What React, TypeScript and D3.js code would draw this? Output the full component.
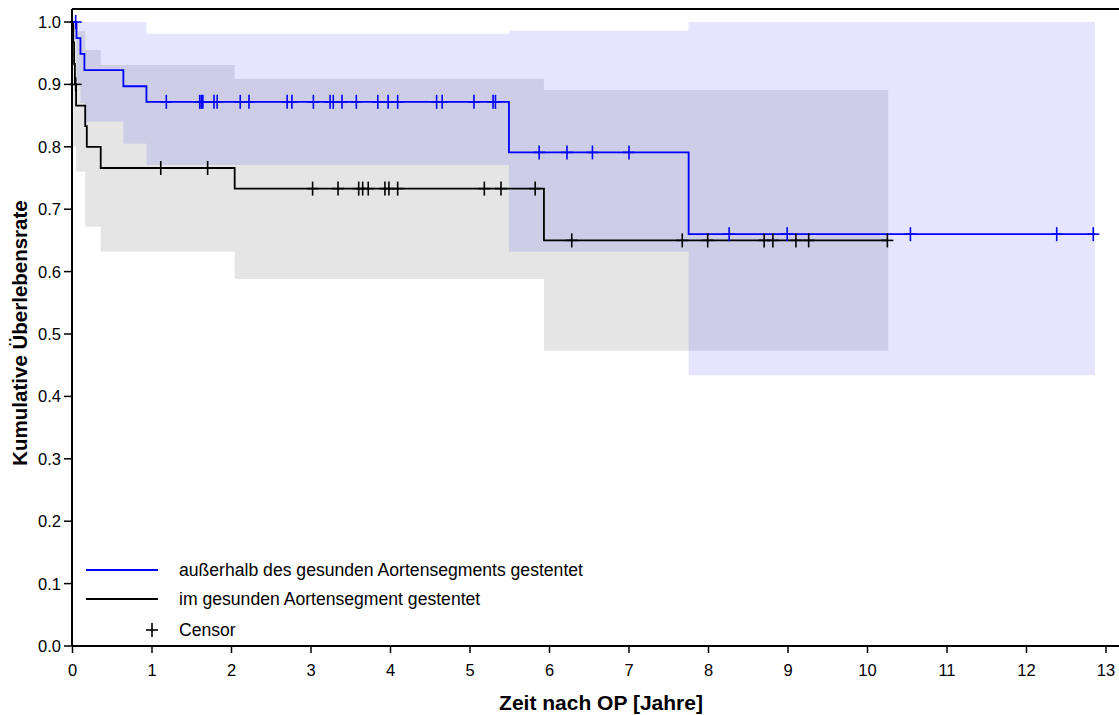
import React from "react";
import * as d3 from "d3";

// ---- Data ----
const xTicks = [0, 1, 2, 3, 4, 5, 6, 7, 8, 9, 10, 11, 12, 13];
const yTicks = [0, 0.1, 0.2, 0.3, 0.4, 0.5, 0.6, 0.7, 0.8, 0.9, 1.0];

// Group 1: außerhalb des gesunden Aortensegments gestentet (blue)
const blueTimes = [0, 0.05, 0.1, 0.15, 0.64, 0.93, 5.49, 7.75];
const blueSurv = [1.0, 0.974, 0.949, 0.923, 0.897, 0.872, 0.791, 0.66];
const blueEnd = 12.86;
const blueCensor = [0.04, 1.18, 1.6, 1.62, 1.64, 1.78, 1.82, 2.11, 2.22, 2.7, 2.76, 3.03, 3.24, 3.28, 3.39, 3.57, 3.84, 3.97, 4.09, 4.58, 4.65, 5.05, 5.29, 5.32, 5.87, 6.22, 6.54, 7.0, 8.26, 8.99, 10.54, 12.38, 12.84];
const blueBandTimes = [0.05, 0.1, 0.15, 0.64, 0.93, 5.49, 7.75];
const blueBandUpper = [1.0, 1.0, 1.0, 1.0, 0.981, 0.986, 1.0];
const blueBandLower = [0.9, 0.87, 0.84, 0.805, 0.771, 0.632, 0.434];

// Group 2: im gesunden Aortensegment gestentet (black)
const blackTimes = [0, 0.01, 0.02, 0.03, 0.045, 0.16, 0.18, 0.355, 2.04, 5.93];
const blackSurv = [1.0, 0.967, 0.933, 0.9, 0.866, 0.833, 0.8, 0.766, 0.733, 0.65];
const blackEnd = 10.26;
const blackCensor = [0.04, 1.11, 1.7, 3.02, 3.34, 3.6, 3.65, 3.72, 3.93, 3.98, 4.09, 5.18, 5.39, 5.82, 6.28, 7.67, 7.99, 8.7, 8.81, 9.1, 9.26, 10.25];
const blackBandTimes = [0.01, 0.045, 0.16, 0.355, 2.04, 5.93];
const blackBandUpper = [0.995, 0.985, 0.955, 0.931, 0.909, 0.891];
const blackBandLower = [0.8, 0.76, 0.672, 0.632, 0.588, 0.473];

const legendLabels = [
  "außerhalb des gesunden Aortensegments gestentet",
  "im gesunden Aortensegment gestentet",
  "Censor",
];
const xTitle = "Zeit nach OP [Jahre]";
const yTitle = "Kumulative Überlebensrate";

const W = 1119;
const H = 715;
const FONT = "'Liberation Sans', Arial, sans-serif";

export default function App() {
  const x = d3.scaleLinear().domain([0, 13]).range([72.5, 1106]);
  const y = d3.scaleLinear().domain([0, 1]).range([646, 22]);

  const survAt = (times: number[], surv: number[], t: number) => {
    let s = surv[0];
    for (let i = 0; i < times.length; i++) if (times[i] <= t) s = surv[i];
    return s;
  };

  const stepLine = (times: number[], surv: number[], end: number) => {
    const pts: [number, number][] = times.map((t, i) => [t, surv[i]]);
    pts.push([end, surv[surv.length - 1]]);
    return d3
      .line<[number, number]>()
      .x((d) => x(d[0]))
      .y((d) => y(d[1]))
      .curve(d3.curveStepAfter)(pts) as string;
  };

  const bandArea = (times: number[], up: number[], lo: number[], end: number) => {
    const pts = times.map((t, i) => ({ t, u: up[i], l: lo[i] }));
    pts.push({ t: end, u: up[up.length - 1], l: lo[lo.length - 1] });
    return d3
      .area<{ t: number; u: number; l: number }>()
      .x((d) => x(d.t))
      .y0((d) => y(d.l))
      .y1((d) => y(d.u))
      .curve(d3.curveStepAfter)(pts) as string;
  };

  const cross = (cx: number, cy: number, color: string, key: string) => (
    <g key={key} stroke={color} strokeWidth={1.6}>
      <line x1={cx} x2={cx} y1={cy - 7} y2={cy + 7} />
      <line x1={cx - 6} x2={cx + 6} y1={cy} y2={cy} />
    </g>
  );

  const blue = "#0000ff";
  const black = "#000000";

  return (
    <svg
      width={W}
      height={H}
      style={{ position: "absolute", left: 0, top: 0, background: "#fff" }}
      fontFamily={FONT}
    >
      {/* confidence bands */}
      <path d={bandArea(blackBandTimes, blackBandUpper, blackBandLower, blackEnd)} fill="#000" fillOpacity={0.1} />
      <path d={bandArea(blueBandTimes, blueBandUpper, blueBandLower, blueEnd)} fill="#0000ff" fillOpacity={0.1} />

      {/* survival curves */}
      <path d={stepLine(blackTimes, blackSurv, blackEnd)} fill="none" stroke={black} strokeWidth={1.8} />
      <path d={stepLine(blueTimes, blueSurv, blueEnd)} fill="none" stroke={blue} strokeWidth={1.8} />

      {/* censor marks */}
      {blackCensor.map((t, i) => cross(x(t), y(survAt(blackTimes, blackSurv, t)), black, "bc" + i))}
      {blueCensor.map((t, i) => cross(x(t), y(survAt(blueTimes, blueSurv, t)), blue, "uc" + i))}

      {/* frame / axes */}
      <line x1={72} x2={W} y1={9} y2={9} stroke="#000" strokeWidth={2} />
      <line x1={72} x2={72} y1={9} y2={646} stroke="#000" strokeWidth={2} />
      <line x1={72} x2={W} y1={646} y2={646} stroke="#000" strokeWidth={2} />

      {yTicks.map((v) => (
        <g key={"y" + v}>
          <line x1={64} x2={72} y1={y(v)} y2={y(v)} stroke="#000" strokeWidth={1.5} />
          <text x={61} y={y(v)} dy="0.36em" textAnchor="end" fontSize={16.5} fill="#000">
            {v.toFixed(1)}
          </text>
        </g>
      ))}
      {xTicks.map((v) => (
        <g key={"x" + v}>
          <line x1={x(v)} x2={x(v)} y1={646} y2={653} stroke="#000" strokeWidth={1.5} />
          <text x={x(v)} y={676} textAnchor="middle" fontSize={16.5} fill="#000">
            {v}
          </text>
        </g>
      ))}

      {/* axis titles */}
      <text x={601} y={710} textAnchor="middle" fontSize={21} fontWeight="bold" fill="#000">
        {xTitle}
      </text>
      <text
        transform="translate(27,333) rotate(-90)"
        textAnchor="middle"
        fontSize={20.5}
        fontWeight="bold"
        fill="#000"
      >
        {yTitle}
      </text>

      {/* legend */}
      <line x1={86} x2={158} y1={570} y2={570} stroke={blue} strokeWidth={1.8} />
      <text x={179} y={576} fontSize={17.6} fill="#000">{legendLabels[0]}</text>
      <line x1={86} x2={158} y1={599} y2={599} stroke={black} strokeWidth={1.8} />
      <text x={179} y={605} fontSize={17.6} fill="#000">{legendLabels[1]}</text>
      {cross(152, 630, black, "legc")}
      <text x={179} y={636} fontSize={17.6} fill="#000">{legendLabels[2]}</text>
    </svg>
  );
}
